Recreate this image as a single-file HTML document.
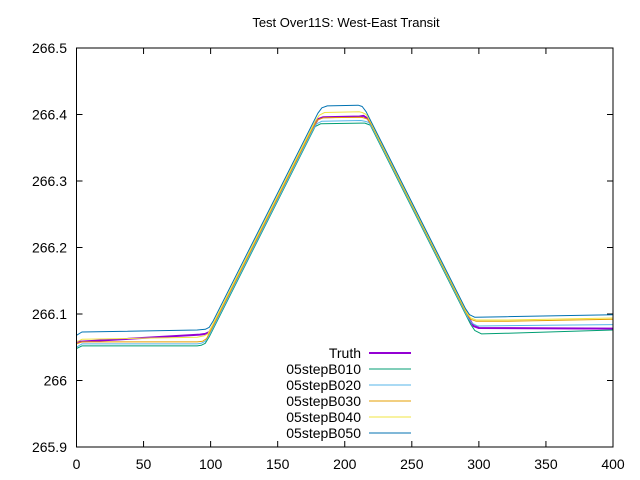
<!DOCTYPE html>
<html><head><meta charset="utf-8"><style>
html,body{margin:0;padding:0;background:#fff}
svg{display:block;font-family:"Liberation Sans",sans-serif}
</style></head><body>
<svg id="chart" width="640" height="480"></svg>
<script>
const xTicks=[0,50,100,150,200,250,300,350,400];
const yTicks=[265.9,266,266.1,266.2,266.3,266.4,266.5];
const yTickLabels=["265.9","266","266.1","266.2","266.3","266.4","266.5"];
const seriesNames=["Truth","05stepB010","05stepB020","05stepB030","05stepB040","05stepB050"];
const truthX=[0,92,96,99,102,177,180,184,211,214,217,220,293,296,300,400];
const truthY=[266.058,266.069,266.070,266.073,266.083,266.383,266.393,266.396,266.397,266.398,266.394,266.384,266.092,266.082,266.079,266.078];
const b010X=[0,4,90,93,96,99,175,178,182,212,215,219,222,294,297,302,320,400];
const b010Y=[266.048,266.052,266.052,266.053,266.056,266.066,266.370,266.382,266.386,266.387,266.387,266.384,266.372,266.084,266.075,266.070,266.071,266.076];
const b020X=[0,4,90,93,96,99,176,179,183,212,215,218,221,292,295,299,400];
const b020Y=[266.050,266.055,266.055,266.056,266.059,266.068,266.376,266.386,266.390,266.391,266.390,266.388,266.378,266.094,266.086,266.082,266.084];
const b030X=[0,4,90,94,97,100,177,180,184,212,214,217,220,291,294,298,320,400];
const b030Y=[266.055,266.058,266.058,266.059,266.063,266.075,266.383,266.392,266.395,266.396,266.395,266.393,266.384,266.100,266.092,266.089,266.089,266.092];
const b040X=[0,4,90,95,98,101,178,181,185,211,213,216,219,291,294,298,320,400];
const b040Y=[266.058,266.062,266.065,266.067,266.070,266.082,266.390,266.399,266.403,266.404,266.403,266.400,266.390,266.102,266.094,266.091,266.091,266.094];
const b050X=[0,4,90,96,99,102,180,183,187,210,213,216,290,293,297,320,400];
const b050Y=[266.068,266.073,266.076,266.077,266.080,266.090,266.402,266.410,266.413,266.414,266.412,266.404,266.108,266.099,266.095,266.096,266.099];
const seriesX=[truthX,b010X,b020X,b030X,b040X,b050X];
const seriesY=[truthY,b010Y,b020Y,b030Y,b040Y,b050Y];
const colors=["#9400d3","#009e73","#56b4e9","#e69f00","#f0e442","#0072b2"];
const widths=[2,1,1,1,1,1];
const L=76.5,R=613,T=48,B=447;
const sx=v=>L+(v-0)/(400-0)*(R-L);
const sy=v=>B-(v-265.9)/(266.5-265.9)*(B-T);
const svg=document.getElementById('chart');
const NS="http://www.w3.org/2000/svg";
function mk(t,a){const e=document.createElementNS(NS,t);for(const k in a)e.setAttribute(k,a[k]);svg.appendChild(e);return e;}
let t=mk('text',{x:346,y:27,'text-anchor':'middle','font-size':13});t.textContent="Test Over11S: West-East Transit";


xTicks.forEach(v=>{
  const l=mk('line',{x1:sx(v),x2:sx(v),y1:B,y2:B-6,stroke:'#000'});
  
  
  const l2=mk('line',{x1:sx(v),x2:sx(v),y1:T,y2:T+6,stroke:'#000'});
  
  
  const tx=mk('text',{x:sx(v),y:469,'text-anchor':'middle','font-size':14});tx.textContent=v;
  
  
});
yTicks.forEach((v,i)=>{
  const l=mk('line',{x1:L,x2:L+6,y1:sy(v),y2:sy(v),stroke:'#000'});
  
  
  const l2=mk('line',{x1:R,x2:R-6,y1:sy(v),y2:sy(v),stroke:'#000'});
  
  
  const tx=mk('text',{x:67,y:sy(v)+5,'text-anchor':'end','font-size':14});tx.textContent=yTickLabels[i];
  
  
});
const order=[0,1,2,3,4,5];
order.forEach(i=>{
  const pts=seriesX[i].map((x,j)=>sx(x).toFixed(1)+","+sy(seriesY[i][j]).toFixed(1)).join(" ");
  const p=mk('polyline',{points:pts,fill:'none',stroke:colors[i],'stroke-width':widths[i],'stroke-linejoin':'round'});
  
  
});
seriesNames.forEach((n,i)=>{
  const y=353+i*16;
  const tx=mk('text',{x:361,y:y+5,'text-anchor':'end','font-size':14});tx.textContent=n;
  
  
  const l=mk('line',{x1:369,x2:411,y1:y,y2:y,stroke:colors[i],'stroke-width':widths[i]});
  
  
});
const fr=mk('rect',{x:L,y:T,width:R-L,height:B-T,fill:'none',stroke:'#000','stroke-width':1});


</script>
</body></html>
